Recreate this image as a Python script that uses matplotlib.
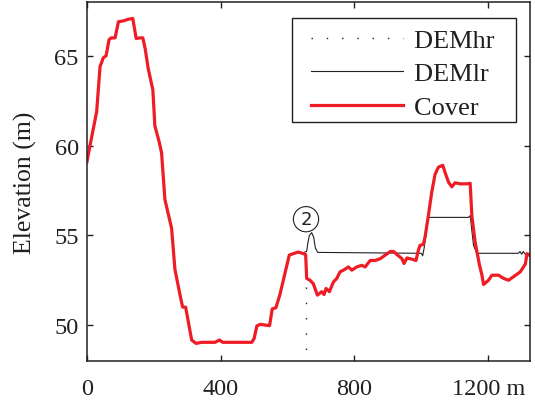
import matplotlib
matplotlib.use("Agg")
import matplotlib.pyplot as plt
from matplotlib.patches import Rectangle

# ---- data ----
cover_x = [0, 9, 29, 39, 49, 57, 66, 72, 84, 94, 109, 124, 137, 147, 159, 167, 174, 183,
           197, 203, 216, 223, 233, 253, 263, 278, 286, 295, 313, 326, 343, 383, 396, 406,
           493, 500, 508, 518, 546, 554, 565, 577, 605, 617, 632, 647, 654, 657, 667, 677,
           689, 702, 709, 715, 725, 737, 747, 757, 767, 782, 792, 807, 822, 832, 847, 862,
           877, 892, 907, 917, 927, 942, 948, 957, 972, 984, 991, 996, 1006, 1011, 1021,
           1031, 1041, 1051, 1064, 1071, 1081, 1091, 1101, 1116, 1136, 1146, 1151, 1161,
           1174, 1181, 1186, 1201, 1211, 1231, 1246, 1261, 1276, 1296, 1311, 1316, 1323]
cover_y = [59.1, 60.0, 61.9, 64.4, 64.9, 65.0, 65.9, 66.0, 66.0, 66.9, 66.95, 67.04, 67.08,
           65.97, 66.0, 66.0, 65.4, 64.3, 63.1, 61.1, 60.2, 59.6, 57.0, 55.4, 53.1, 51.7,
           51.0, 51.0, 49.17, 48.98, 49.04, 49.04, 49.17, 49.04, 49.04, 49.26, 49.95, 50.04,
           49.97, 50.9, 50.97, 51.7, 53.9, 53.98, 54.07, 53.98, 53.93, 52.6, 52.5, 52.3,
           51.67, 51.86, 51.7, 52.04, 51.86, 52.4, 52.6, 52.97, 53.06, 53.24, 53.06, 53.24,
           53.33, 53.24, 53.6, 53.6, 53.7, 53.9, 54.1, 54.1, 53.93, 53.7, 53.43, 53.74,
           53.67, 53.6, 54.17, 54.44, 54.5, 54.9, 56.1, 57.4, 58.4, 58.8, 58.9, 58.5, 57.97,
           57.7, 57.93, 57.87, 57.87, 57.9, 56.1, 54.6, 53.33, 52.8, 52.26, 52.5, 52.78,
           52.78, 52.6, 52.5, 52.7, 52.97, 53.4, 53.98, 53.9]

demlr_x = [640, 657, 660, 665, 672, 678, 683, 690, 1000, 1004, 1008, 1021, 1026, 1141,
           1146, 1156, 1166, 1290, 1295, 1300, 1305, 1310, 1325]
demlr_y = [54.0, 54.1, 54.5, 55.0, 55.15, 54.9, 54.3, 54.05, 54.0, 53.86, 54.26, 56.0, 56.0,
           56.0, 56.1, 54.44, 54.0, 54.0, 54.1, 53.95, 54.1, 53.95, 54.0]

demhr_x = [654, 654]
demhr_y = [52.1, 48.0]

xticks = [0, 400, 800, 1200]
xticklabels = ["0", "400", "800", "1200 m"]
yticks = [50, 55, 60, 65]

# ---- style ----
plt.rcParams['font.family'] = ['Liberation Serif', 'DejaVu Serif']
dark = '#231f20'
red = '#ee1c25'

fig = plt.figure(figsize=(5.35, 4.06), dpi=100)
ax = fig.add_axes([0.1626, 0.1084, 0.9907 - 0.1626, 0.9926 - 0.1084])

ax.plot(demhr_x, demhr_y, color=dark, lw=1.0, linestyle=(0, (1, 10)), label='DEMhr  ')
ax.plot(demlr_x, demlr_y, color=dark, lw=0.8, label='DEMlr  ')
ax.plot(cover_x, cover_y, color=red, lw=2.3, label='Cover  ', solid_joinstyle='round')

ax.set_xlim(0, 1325)
ax.set_ylim(48, 68)
ax.set_xticks(xticks)
ax.set_xticklabels(xticklabels)
ax.set_yticks(yticks)

ax.tick_params(direction='in', top=True, right=True, length=4, width=1.0,
               colors=dark, labelsize=17.5)
ax.tick_params(axis='x', pad=12)
ax.tick_params(axis='y', pad=6)
for s in ax.spines.values():
    s.set_color(dark)
    s.set_linewidth(1.1)

ax.set_ylabel('Elevation (m)', fontsize=18.5, color=dark, labelpad=12)

ax.text(655, 55.9, '2', ha='center', va='center', fontsize=13, color=dark,
        family='DejaVu Sans',
        bbox=dict(boxstyle='circle,pad=0.2', fc='white', ec=dark, lw=0.8))

leg = ax.legend(loc='upper right', fontsize=19, frameon=False,
                handlelength=3.5, handletextpad=0.4,
                borderpad=0.25, labelspacing=0.38, borderaxespad=0.6,
                bbox_to_anchor=(1.0, 1.0 - 4.0 / 359))
for t in leg.get_texts():
    t.set_color(dark)

# legend frame
frame = Rectangle((0.4628, 0.6657), 0.9684 - 0.4628, 0.9554 - 0.6657,
                  transform=ax.transAxes, fill=True, fc='white', ec=dark, lw=1.0,
                  zorder=4.9)
ax.add_patch(frame)
leg.set_zorder(5)

fig.savefig('out.png', dpi=100)
